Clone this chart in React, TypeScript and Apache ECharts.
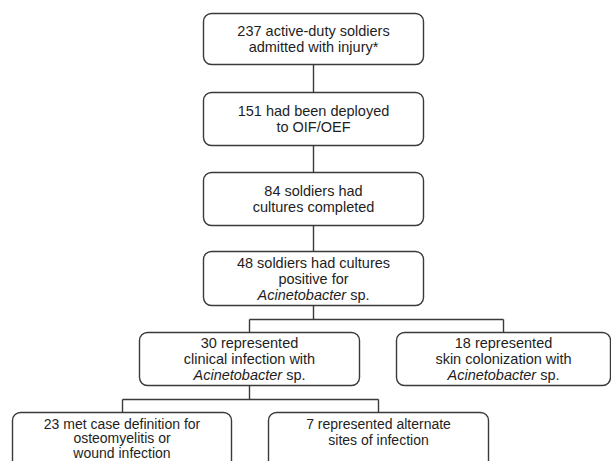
import React, { useEffect, useRef } from "react";
import * as echarts from "echarts";

// ---- Data: text of each flowchart box (rich tag {i|...} = italic) ----
const boxTexts: string[][] = [
  ["237 active-duty soldiers", "admitted with injury*"],
  ["151 had been deployed", "to OIF/OEF"],
  ["84 soldiers had", "cultures completed"],
  ["48 soldiers had cultures", "positive for", "{i|Acinetobacter} sp."],
  ["30 represented", "clinical infection with", "{i|Acinetobacter} sp."],
  ["18 represented", "skin colonization with", "{i|Acinetobacter} sp."],
  ["23 met case definition for", "osteomyelitis or", "wound infection"],
  ["7 represented alternate", "sites of infection"],
];
// parent box index of each box (-1 = root)
const parentOf: number[] = [-1, 0, 1, 2, 3, 3, 4, 4];

// ---- Layout (positions / sizes) ----
const boxLayout = [
  { x: 203, y: 13, w: 220, h: 51, top: false },
  { x: 203, y: 92, w: 220, h: 53, top: false },
  { x: 203, y: 172, w: 220, h: 53, top: false },
  { x: 203, y: 251, w: 220, h: 54, top: false },
  { x: 139, y: 332, w: 220, h: 53, top: false },
  { x: 396, y: 332, w: 214, h: 53, top: false },
  { x: 12, y: 412, w: 219, h: 62, top: true },
  { x: 268, y: 412, w: 220, h: 62, top: true },
];

const FONT = "'Liberation Sans', Arial, Helvetica, sans-serif";
const FONT_SIZE = 14.5;
const FONT_SIZE_BOTTOM = 14;
const LINE_H = 16;
const TEXT_COLOR = "#1e1e1e";
const STROKE = "#3a3a3a";

function buildGraphic() {
  const els: any[] = [];
  const children: Record<number, number[]> = {};
  parentOf.forEach((p, i) => {
    if (p >= 0) (children[p] = children[p] || []).push(i);
  });
  const lineStyle = { stroke: STROKE, lineWidth: 1.4 };
  Object.keys(children).forEach((k) => {
    const p = Number(k);
    const pb = boxLayout[p];
    const px = pb.x + pb.w / 2;
    const pBottom = pb.y + pb.h;
    const kids = children[p];
    if (kids.length === 1) {
      const cb = boxLayout[kids[0]];
      els.push({
        type: "line",
        shape: { x1: px + 0.5, y1: pBottom, x2: px + 0.5, y2: cb.y },
        style: lineStyle,
      });
    } else {
      const cTop = Math.min(...kids.map((c) => boxLayout[c].y));
      const midY = Math.round((pBottom + cTop) / 2) + 0.5;
      els.push({
        type: "line",
        shape: { x1: px + 0.5, y1: pBottom, x2: px + 0.5, y2: midY },
        style: lineStyle,
      });
      const xs = kids.map((c) => Math.round(boxLayout[c].x + boxLayout[c].w / 2) + 0.5);
      els.push({
        type: "line",
        shape: { x1: Math.min(...xs), y1: midY, x2: Math.max(...xs), y2: midY },
        style: lineStyle,
      });
      kids.forEach((c, j) => {
        els.push({
          type: "line",
          shape: { x1: xs[j], y1: midY, x2: xs[j], y2: boxLayout[c].y },
          style: lineStyle,
        });
      });
    }
  });
  boxTexts.forEach((lines, i) => {
    const b = boxLayout[i];
    els.push({
      type: "rect",
      shape: { x: b.x + 0.5, y: b.y + 0.5, width: b.w, height: b.h, r: 8 },
      style: { fill: "#ffffff", stroke: STROKE, lineWidth: 1.4 },
    });
    const cx = b.x + b.w / 2 + 0.5;
    const fs = b.top ? FONT_SIZE_BOTTOM : FONT_SIZE;
    const lh = b.top ? (lines.length === 2 ? 16 : 14.5) : LINE_H;
    const firstY = b.top
      ? b.y + 11.5
      : b.y + b.h / 2 - ((lines.length - 1) * lh) / 2 + 0.5;
    lines.forEach((ln, j) => {
      els.push({
        type: "text",
        x: cx,
        y: firstY + j * lh,
        style: {
          text: ln,
          fontSize: fs,
          fontFamily: FONT,
          fill: TEXT_COLOR,
          align: "center",
          verticalAlign: "middle",
          textAlign: "center",
          textVerticalAlign: "middle",
          rich: {
            i: {
              fontSize: fs,
              fontFamily: FONT,
              fontStyle: "italic",
              fill: TEXT_COLOR,
              color: TEXT_COLOR,
            },
          },
        },
      });
    });
  });
  return els;
}

export default function App() {
  const ref = useRef<HTMLDivElement>(null);
  useEffect(() => {
    document.body.style.margin = "0";
    if (!ref.current) return;
    const chart = echarts.init(ref.current, undefined, { renderer: "svg" });
    chart.setOption({
      animation: false,
      backgroundColor: "#ffffff",
      graphic: { elements: buildGraphic() },
    });
    return () => chart.dispose();
  }, []);
  return <div ref={ref} style={{ width: 611, height: 461 }} />;
}
